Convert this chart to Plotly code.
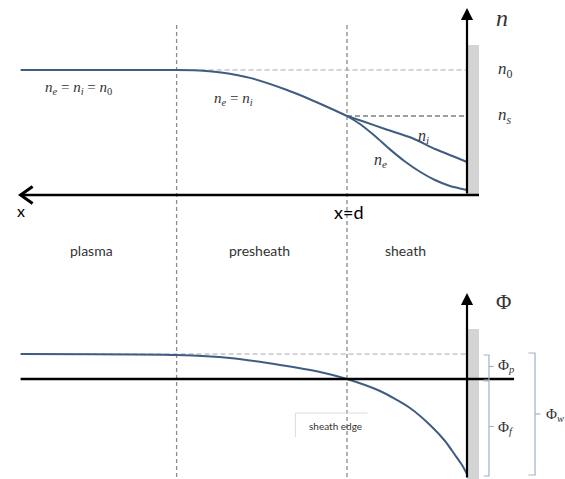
import plotly.graph_objects as go

# Distance from the wall (increasing to the left), in units of the sheath width d
x_presheath = [3.72, 2.42, 2.20, 2.05, 1.80, 1.50, 1.20, 1.00]
n_presheath = [1.000, 1.000, 0.995, 0.980, 0.935, 0.840, 0.720, 0.632]

x_ion = [1.00, 0.85, 0.683, 0.458, 0.267, 0.10, 0.00]
n_ion = [0.632, 0.584, 0.528, 0.456, 0.368, 0.304, 0.264]

x_elec = [1.00, 0.892, 0.767, 0.642, 0.517, 0.392, 0.267, 0.142, 0.00]
n_elec = [0.632, 0.568, 0.472, 0.365, 0.268, 0.186, 0.120, 0.072, 0.040]

x_phi = [3.72, 2.42, 1.975, 1.558, 1.225, 1.00, 0.725, 0.475, 0.308, 0.183, 0.10, 0.042, 0.00]
phi = [0.25, 0.24, 0.21, 0.14, 0.07, 0.00, -0.12, -0.29, -0.46, -0.62, -0.76, -0.86, -0.95]

N_0 = 1.0
N_S = 0.632
PHI_P = 0.25
PHI_WALL = -0.95
X_WALL = 0.0
X_SHEATH = 1.0
X_PRESHEATH = 2.42
X_LEFT = 3.72

region_labels = ["plasma", "presheath", "sheath"]
region_x = [3.13, 1.73, 0.51]

CURVE = "#3f5d80"
INK = "#333333"
BRACKET = "#9fb3c8"
SERIF = "Liberation Serif"
SANS = "Lato"

fig = go.Figure()

def curve(xs, ys, axis="y"):
    fig.add_trace(go.Scatter(x=xs, y=ys, yaxis=axis, mode="lines",
                             line=dict(color=CURVE, width=2, shape="spline", smoothing=0.7),
                             hoverinfo="skip"))

shapes = []

def line(x0, y0, x1, y1, yref="y", color="black", width=1, dash=None, layer="above"):
    d = dict(type="line", x0=x0, y0=y0, x1=x1, y1=y1, xref="x", yref=yref,
             line=dict(color=color, width=width), layer=layer)
    if dash:
        d["line"]["dash"] = dash
    shapes.append(d)

# wall blocks
shapes.append(dict(type="rect", xref="x", yref="y", x0=X_WALL, x1=-0.1, y0=0, y1=1.2,
                   fillcolor="#d4d4d4", line=dict(width=0), layer="below"))
shapes.append(dict(type="rect", xref="x", yref="y2", x0=X_WALL, x1=-0.1, y0=-1.0, y1=0.5,
                   fillcolor="#d4d4d4", line=dict(width=0), layer="below"))

# region boundaries through both panels
for xb in (X_PRESHEATH, X_SHEATH):
    line(xb, 1.36, xb, -2.3, color="#8a8a8a", width=1.3, dash="4px,3px", layer="below")

# reference levels
line(X_PRESHEATH, N_0, X_WALL, N_0, color="#a8a8a8", width=1.2, dash="5px,3px", layer="below")
line(X_SHEATH, N_S, X_WALL, N_S, color="#404040", width=1.2, dash="5px,3px", layer="below")
line(X_LEFT, PHI_P, X_WALL, PHI_P, yref="y2", color="#a8a8a8", width=1.2, dash="5px,3px", layer="below")

# axes
line(X_LEFT, 0, -0.1, 0, color="black", width=2.5)
line(X_LEFT, 0, -0.392, 0, yref="y2", color="black", width=2.5)
shapes.append(dict(type="path", xref="x", yref="y",
                   path=f"M {X_LEFT - 0.1},0.068 L {X_LEFT},0 L {X_LEFT - 0.1},-0.068",
                   line=dict(color="black", width=3)))

# potential brackets
def bracket(xv, top, bot, hook, tick, ymid):
    shapes.append(dict(type="path", xref="x", yref="y2",
                       path=f"M {xv + hook},{top} L {xv},{top} L {xv},{bot} L {xv + hook},{bot}",
                       line=dict(color=BRACKET, width=1.2)))
    line(xv, ymid, xv + tick, ymid, yref="y2", color=BRACKET, width=1.2)

bracket(-0.183, PHI_P - 0.01, -0.01, 0.045, -0.04, (PHI_P) / 2)
bracket(-0.183, -0.02, PHI_WALL - 0.02, 0.045, -0.04, (PHI_WALL) / 2)
bracket(-0.567, PHI_P + 0.01, PHI_WALL - 0.01, 0.055, -0.045, (PHI_P + PHI_WALL) / 2)

# sheath-edge label frame (top and left edges only)
line(1.43, -0.34, 0.83, -0.34, yref="y2", color="#dcdcdc", width=1)
line(1.43, -0.34, 1.43, -0.58, yref="y2", color="#dcdcdc", width=1)

curve(x_presheath, n_presheath)
curve(x_ion, n_ion)
curve(x_elec, n_elec)
curve(x_phi, phi, "y2")

ann = []

def text(x, y, s, yref="y", size=14, family=SERIF, color=INK, xanchor="center"):
    ann.append(dict(x=x, y=y, xref="x", yref=yref, text=s, showarrow=False,
                    xanchor=xanchor, yanchor="middle",
                    font=dict(family=family, size=size, color=color)))

ne = "<i>n</i><sub><i>e</i></sub>"
ni = "<i>n</i><sub><i>i</i></sub>"
text(3.24, 0.86, f"{ne} = {ni} = <i>n</i><sub>0</sub>", size=15)
text(1.95, 0.77, f"{ne} = {ni}", size=15)
text(0.36, 0.47, ni, size=16)
text(0.725, 0.28, ne, size=16)
text(-0.29, 1.42, "<i>n</i>", size=24)
text(-0.32, N_0, "<i>n</i><sub>0</sub>", size=17)
text(-0.32, N_S, "<i>n</i><sub><i>s</i></sub>", size=17)
text(X_LEFT, -0.12, "x", size=16, family=SANS, color="black")
text(X_SHEATH - 0.01, -0.135, "x=d", size=18, family=SANS, color="black")
for lab, xr in zip(region_labels, region_x):
    text(xr, -0.44, lab, size=14, family=SANS)

text(-0.30, 0.77, "Φ", yref="y2", size=21)
text(-0.245, 0.13, "Φ<sub><i>p</i></sub>", yref="y2", size=15, xanchor="left")
text(-0.245, -0.49, "Φ<sub><i>f</i></sub>", yref="y2", size=15, xanchor="left")
text(-0.64, -0.36, "Φ<sub><i>w</i></sub>", yref="y2", size=15, xanchor="left")
text(1.10, -0.47, "sheath edge", yref="y2", size=10, family=SANS)

# vertical axis arrows
ann.append(dict(x=X_WALL, y=1.496, ax=X_WALL, ay=0, xref="x", yref="y", axref="x", ayref="y",
                text="", showarrow=True, arrowhead=2, arrowsize=1.1, arrowwidth=2.2,
                arrowcolor="black"))
ann.append(dict(x=X_WALL, y=0.86, ax=X_WALL, ay=-1.0, xref="x", yref="y2", axref="x", ayref="y2",
                text="", showarrow=True, arrowhead=2, arrowsize=1.1, arrowwidth=2.2,
                arrowcolor="black"))

fig.update_layout(
    width=565, height=479, margin=dict(l=0, r=0, t=0, b=0),
    paper_bgcolor="white", plot_bgcolor="white", showlegend=False,
    xaxis=dict(range=[467 / 120, -98 / 120], visible=False, fixedrange=True),
    yaxis=dict(range=[-2.272, 1.56], visible=False, domain=[0, 1], fixedrange=True),
    yaxis2=dict(range=[-1.0, 3.79], visible=False, overlaying="y", fixedrange=True),
    shapes=shapes, annotations=ann,
)

fig.write_html("out.html")
